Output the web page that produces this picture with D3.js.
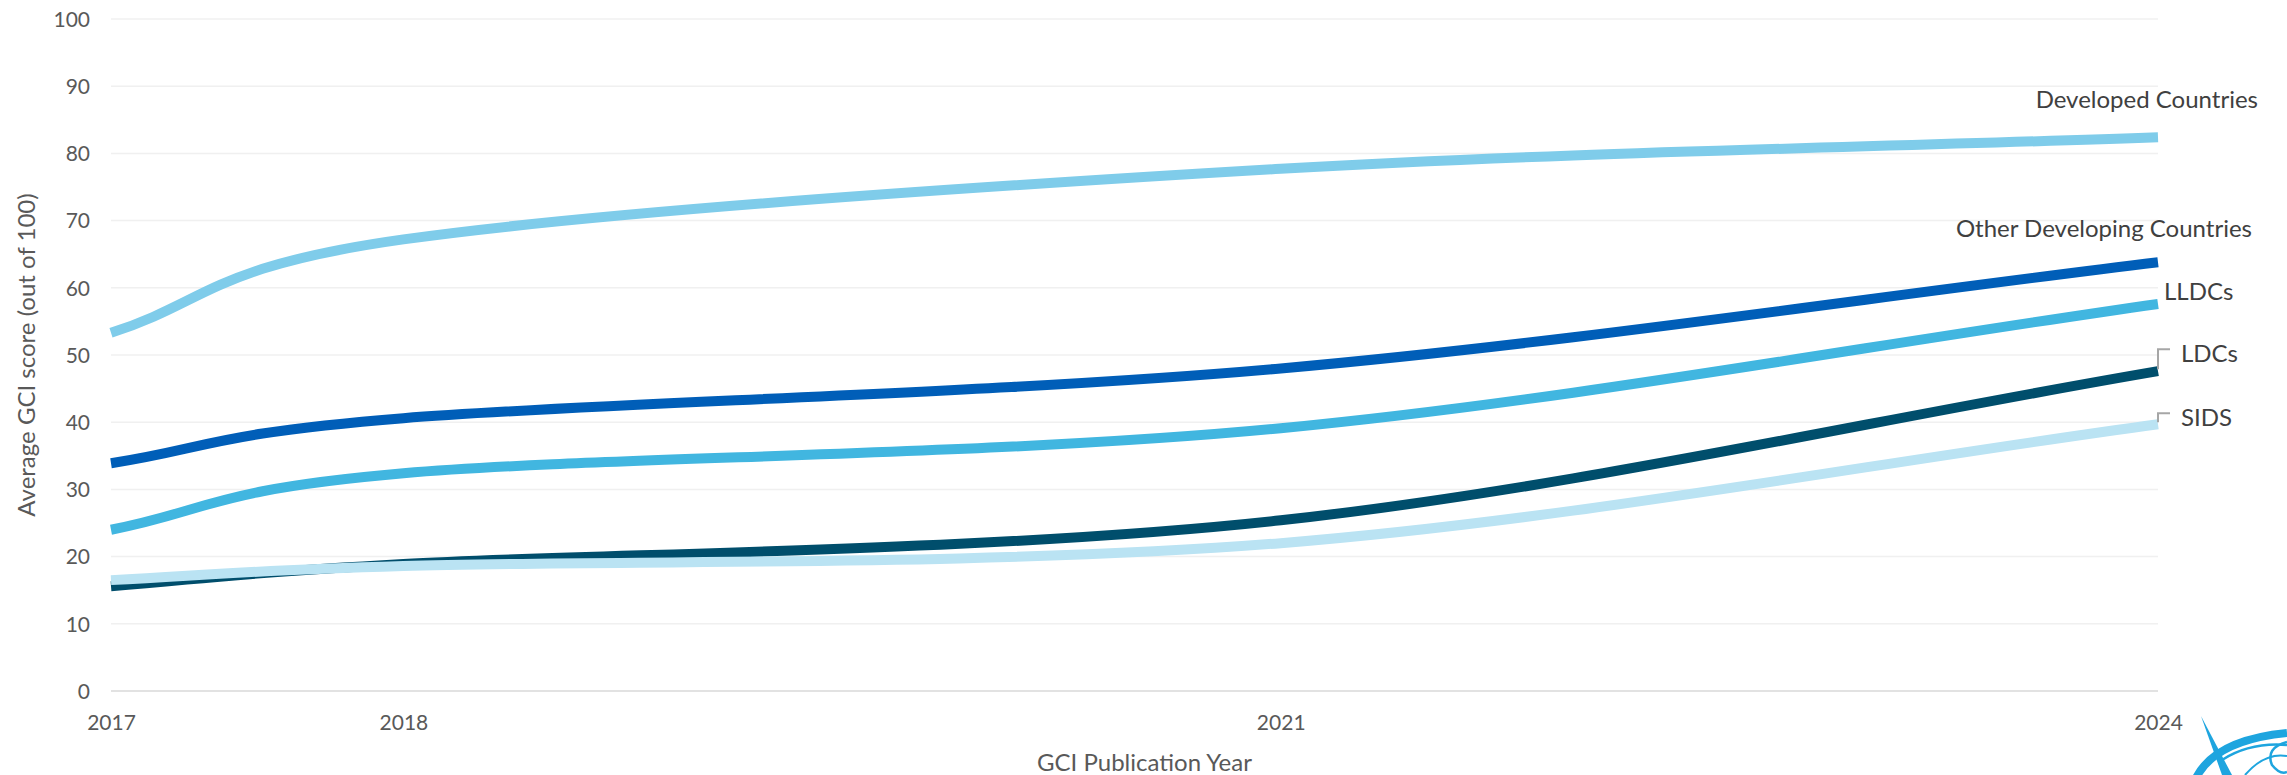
<!DOCTYPE html>
<html>
<head>
<meta charset="utf-8">
<script src="https://cdn.jsdelivr.net/npm/d3@7"></script>
<style>
  html, body { margin: 0; padding: 0; background: #ffffff; }
  svg { display: block; font-family: Lato, "Open Sans", sans-serif; }
</style>
</head>
<body>
<svg id="chart" width="2287" height="775"></svg>
<script>
// ---- data ----
const years = [2017, 2018, 2021, 2024];
const seriesNames = ["Developed Countries", "Other Developing Countries", "LLDCs", "LDCs", "SIDS"];
const developed = [53.3, 67.2, 77.7, 82.4];
const otherDeveloping = [33.9, 40.6, 48.0, 63.8];
const lldcs = [24.0, 32.4, 39.1, 57.6];
const ldcs = [15.6, 18.9, 25.4, 47.6];
const sids = [16.5, 18.6, 22.0, 39.7];
const yTicks = [0, 10, 20, 30, 40, 50, 60, 70, 80, 90, 100];
const xTickLabels = ["2017", "2018", "2021", "2024"];
const xTitle = "GCI Publication Year";
const yTitle = "Average GCI score (out of 100)";

// ---- styles ----
const colors = ["#7FCCEA", "#005EB8", "#41B6E0", "#004E6C", "#BAE3F3"];
const values = [developed, otherDeveloping, lldcs, ldcs, sids];

// Spreadsheet-style smoothing curve (Catmull-Rom bezier with reflected end points)
function curveSmooth(context) {
  let pts = [];
  return {
    areaStart() {}, areaEnd() {},
    lineStart() { pts = []; },
    point(px, py) { pts.push([+px, +py]); },
    lineEnd() {
      const n = pts.length;
      if (!n) return;
      context.moveTo(pts[0][0], pts[0][1]);
      if (n === 1) return;
      const P = i => {
        if (i < 0) return [2 * pts[0][0] - pts[1][0], 2 * pts[0][1] - pts[1][1]];
        if (i >= n) return [2 * pts[n - 1][0] - pts[n - 2][0], 2 * pts[n - 1][1] - pts[n - 2][1]];
        return pts[i];
      };
      for (let i = 0; i < n - 1; i++) {
        const p0 = P(i - 1), p1 = P(i), p2 = P(i + 1), p3 = P(i + 2);
        context.bezierCurveTo(
          p1[0] + (p2[0] - p0[0]) / 6, p1[1] + (p2[1] - p0[1]) / 6,
          p2[0] - (p3[0] - p1[0]) / 6, p2[1] - (p3[1] - p1[1]) / 6,
          p2[0], p2[1]);
      }
    }
  };
}

const svg = d3.select("#chart");
const x = d3.scaleLinear().domain([2017, 2024]).range([111, 2158]);
const y = d3.scaleLinear().domain([0, 100]).range([691, 19]);

// gridlines
svg.append("g").selectAll("line").data(yTicks).join("line")
  .attr("x1", x(2017)).attr("x2", x(2024))
  .attr("y1", d => y(d)).attr("y2", d => y(d))
  .attr("stroke", d => d === 0 ? "#D9D9D9" : "#F0F0F0")
  .attr("stroke-width", 1.5);

// y axis labels
const yAxis = d3.axisLeft(y).tickValues(yTicks).tickSize(0).tickPadding(0).tickFormat(d3.format("d"));
const gy = svg.append("g").attr("transform", "translate(90,0)").call(yAxis);
gy.select(".domain").remove();
gy.selectAll("text").attr("font-size", 21).attr("fill", "#595959").attr("font-family", "Lato").attr("dy", "0.35em");

// x axis labels
const xAxis = d3.axisBottom(x).tickValues(years).tickSize(0).tickPadding(0)
  .tickFormat((d, i) => xTickLabels[i]);
const gx = svg.append("g").attr("transform", "translate(0,723)").call(xAxis);
gx.select(".domain").remove();
gx.selectAll("text").attr("font-size", 21).attr("fill", "#595959").attr("font-family", "Lato").attr("dy", "0.35em");

// axis titles
svg.append("text").attr("x", (x(2017) + x(2024)) / 2 + 10).attr("y", 763).attr("dy", "0.35em")
  .attr("text-anchor", "middle").attr("font-size", 24).attr("fill", "#595959").text(xTitle);
svg.append("text").attr("transform", `translate(27,${(y(0) + y(100)) / 2}) rotate(-90)`)
  .attr("dy", "0.35em").attr("text-anchor", "middle").attr("font-size", 24).attr("fill", "#595959").text(yTitle);

// lines
const line = d3.line().x(d => x(d[0])).y(d => y(d[1])).curve(curveSmooth);
svg.append("g").selectAll("path").data(values).join("path")
  .attr("d", v => line(years.map((yr, i) => [yr, v[i]])))
  .attr("fill", "none")
  .attr("stroke", (v, i) => colors[i])
  .attr("stroke-width", 10);

// series labels
const last = years.length - 1;
const xEnd = x(years[last]);
const labelSpecs = [
  { dx: 100, dy: -38, anchor: "end" },
  { dx: 94, dy: -34, anchor: "end" },
  { dx: 6, dy: -12, anchor: "start" },
  { dx: 23, dy: -18, anchor: "start", leader: true },
  { dx: 23, dy: -7, anchor: "start", leader: true }
];
const lg = svg.append("g");
seriesNames.forEach((name, i) => {
  const s = labelSpecs[i];
  const ly = y(values[i][last]) + s.dy;
  lg.append("text").attr("x", xEnd + s.dx).attr("y", ly).attr("dy", "0.35em")
    .attr("text-anchor", s.anchor).attr("font-size", 24).attr("fill", "#404040").text(name);
  if (s.leader) {
    const y0 = y(values[i][last]);
    const yTop = ly - 4;
    lg.append("path")
      .attr("d", `M${xEnd},${y0 - 2}L${xEnd},${yTop}L${xEnd + 12},${yTop}`)
      .attr("fill", "none").attr("stroke", "#A6A6A6").attr("stroke-width", 2);
  }
});

// logo fragment (decorative)
const logo = svg.append("g").attr("fill", "none").attr("stroke", "#1EA5DF");
logo.append("path").attr("d", "M2201,716 L2232,775 L2222,775 Z").attr("fill", "#1EA5DF").attr("stroke", "none");
logo.append("path").attr("d", "M2196,778 Q2215,740 2287,733").attr("stroke-width", 8);
logo.append("path").attr("d", "M2222,760 Q2250,742 2287,745").attr("stroke-width", 2.5);
logo.append("path").attr("d", "M2287,742 Q2265,748 2272,765 Q2280,775 2287,772").attr("stroke-width", 2.5);
logo.append("path").attr("d", "M2245,775 Q2265,752 2287,756").attr("stroke-width", 2);
</script>
</body>
</html>
